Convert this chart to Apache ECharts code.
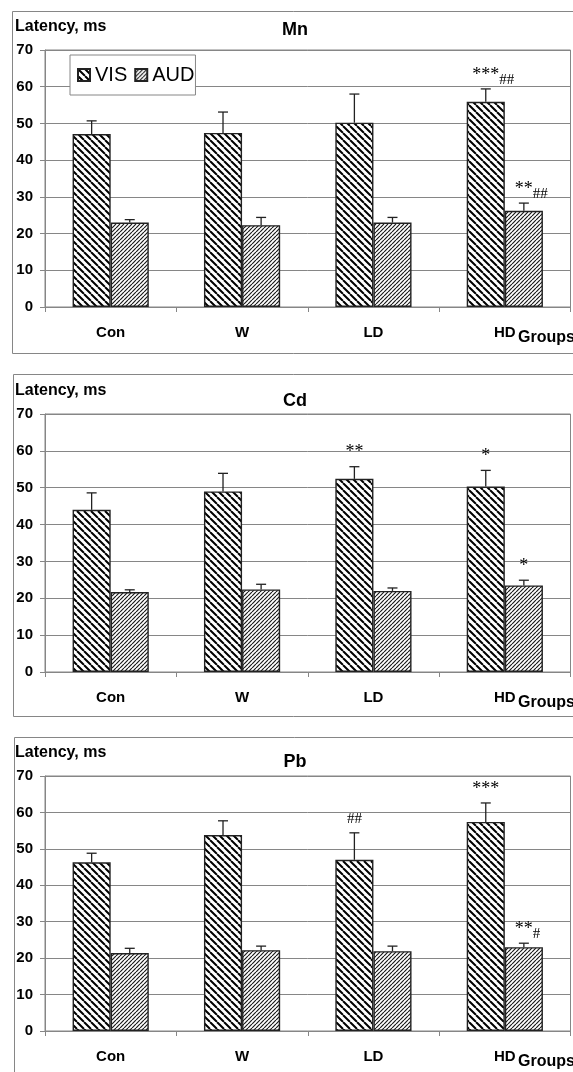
<!DOCTYPE html>
<html><head><meta charset="utf-8">
<script src="https://cdn.jsdelivr.net/npm/echarts@6/dist/echarts.min.js"></script>
<style>html,body{margin:0;padding:0;background:#fff}#c{width:573px;height:1072px}</style>
</head><body><div id="c"></div>
<script>
// ---- data ----
const categories = ['Con', 'W', 'LD', 'HD'];
const panelTitles = ['Mn', 'Cd', 'Pb'];
const yAxisTitle = 'Latency, ms';
const xAxisTitle = 'Groups';
const yMin = 0, yMax = 70, yStep = 10;

const mnVIS = [47.1, 47.4, 50.2, 55.9];
const mnVISerr = [3.6, 5.7, 7.8, 3.5];
const mnAUD = [23.0, 22.3, 23.0, 26.2];
const mnAUDerr = [0.8, 2.1, 1.4, 2.1];
const mnVISstars = ['', '', '', '***'];
const mnVIShash = ['', '', '', '##'];
const mnAUDstars = ['', '', '', '**'];
const mnAUDhash = ['', '', '', '##'];

const cdVIS = [44.0, 49.0, 52.4, 50.3];
const cdVISerr = [4.6, 4.9, 3.3, 4.4];
const cdAUD = [21.7, 22.4, 22.0, 23.5];
const cdAUDerr = [0.6, 1.4, 0.8, 1.4];
const cdVISstars = ['', '', '**', '*'];
const cdVIShash = ['', '', '', ''];
const cdAUDstars = ['', '', '', '*'];
const cdAUDhash = ['', '', '', ''];

const pbVIS = [46.3, 53.8, 47.0, 57.4];
const pbVISerr = [2.5, 3.9, 7.4, 5.2];
const pbAUD = [21.4, 22.2, 21.9, 23.0];
const pbAUDerr = [1.3, 1.1, 1.4, 1.1];
const pbVISstars = ['', '', '', '***'];
const pbVIShash = ['', '', '##', ''];
const pbAUDstars = ['', '', '', '**'];
const pbAUDhash = ['', '', '', '#'];

// ---- layout / style ----
const GAP = 0.42;
const gridTops = [50, 414, 776];
const gridHeights = [257, 258, 255];
const titleY = [30, 401, 762];
const frames = [[12, 11, 600, 342], [13, 374, 600, 342], [14, 737, 600, 360]];
const GRAY = '#868686';
const SANS = '"Liberation Sans", Arial, sans-serif';

function hatch(size, lw, color, dir) {
  const c = document.createElement('canvas');
  c.width = size; c.height = size;
  const g = c.getContext('2d');
  g.fillStyle = '#fff'; g.fillRect(0, 0, size, size);
  g.strokeStyle = color; g.lineWidth = lw; g.beginPath();
  for (let k = -1; k <= 1; k++) {
    if (dir > 0) { g.moveTo(k * size, 0); g.lineTo(k * size + size, size); }
    else { g.moveTo(k * size, size); g.lineTo(k * size + size, 0); }
  }
  g.stroke();
  return c;
}
const visPattern = { image: hatch(7, 2.0, '#000', 1), repeat: 'repeat' };
const audPattern = { image: hatch(4, 1.2, '#1a1a1a', -1), repeat: 'repeat' };

const panels = [
  { vis: mnVIS, visErr: mnVISerr, aud: mnAUD, audErr: mnAUDerr, vs: mnVISstars, vh: mnVIShash, as: mnAUDstars, ah: mnAUDhash },
  { vis: cdVIS, visErr: cdVISerr, aud: cdAUD, audErr: cdAUDerr, vs: cdVISstars, vh: cdVIShash, as: cdAUDstars, ah: cdAUDhash },
  { vis: pbVIS, visErr: pbVISerr, aud: pbAUD, audErr: pbAUDerr, vs: pbVISstars, vh: pbVIShash, as: pbAUDstars, ah: pbAUDhash }
];

function errSeries(idx, means, errs, stars, hashes, side, name) {
  return {
    type: 'custom', name: name, xAxisIndex: idx, yAxisIndex: idx, z: 5, silent: true,
    data: means.map((m, i) => [i, m, errs[i]]),
    renderItem: function (params, api) {
      const i = api.value(0), m = api.value(1), e = api.value(2);
      const band = api.size([1, 0])[0];
      const bw = band * (1 - GAP) / 2;
      const base = api.coord([i, m]);
      const x = base[0] + side * bw / 2;
      const y0 = base[1];
      const yT = api.coord([i, m + e])[1];
      const ls = { stroke: '#222', lineWidth: 1.3 };
      const children = [
        { type: 'line', shape: { x1: x, y1: y0, x2: x, y2: yT }, style: ls },
        { type: 'line', shape: { x1: x - 5, y1: yT, x2: x + 5, y2: yT }, style: ls }
      ];
      const s = stars[i], h = hashes[i];
      if (s) {
        children.push({ type: 'text', style: { text: s, x: x, y: yT - 14, font: '18px "Liberation Serif"', fill: '#000', align: 'center', verticalAlign: 'middle', textAlign: 'center', textVerticalAlign: 'middle' } });
      }
      if (h) {
        if (s) {
          children.push({ type: 'text', style: { text: h, x: x + s.length * 4.5, y: yT - 9, font: '15px "Liberation Serif"', fill: '#000', align: 'left', verticalAlign: 'middle', textAlign: 'left', textVerticalAlign: 'middle' } });
        } else {
          children.push({ type: 'text', style: { text: h, x: x, y: yT - 14, font: '15px "Liberation Serif"', fill: '#000', align: 'center', verticalAlign: 'middle', textAlign: 'center', textVerticalAlign: 'middle' } });
        }
      }
      return { type: 'group', children: children };
    }
  };
}

const grids = [], xAxes = [], yAxes = [], series = [], graphics = [];
panels.forEach((p, k) => {
  grids.push({ left: 45, width: 525.5, top: gridTops[k], height: gridHeights[k], show: true, borderColor: GRAY, borderWidth: 1, backgroundColor: '#fff' });
  xAxes.push({
    type: 'category', gridIndex: k, data: categories,
    axisLine: { show: true, lineStyle: { color: GRAY, width: 1 } },
    axisTick: { show: true, length: 5, lineStyle: { color: GRAY } },
    axisLabel: { color: '#000', fontFamily: SANS, fontWeight: 'bold', fontSize: 15, margin: 18 },
    splitLine: { show: false }
  });
  yAxes.push({
    type: 'value', gridIndex: k, min: yMin, max: yMax, interval: yStep,
    axisLine: { show: true, lineStyle: { color: GRAY, width: 1 } },
    axisTick: { show: true, length: 5, lineStyle: { color: GRAY } },
    axisLabel: { color: '#000', fontFamily: SANS, fontWeight: 'bold', fontSize: 15, margin: 12 },
    splitLine: { show: true, lineStyle: { color: GRAY, width: 1 } }
  });
  const barStyle = { borderColor: '#222', borderWidth: 1.4 };
  series.push({ type: 'bar', name: 'VIS', xAxisIndex: k, yAxisIndex: k, data: p.vis, barGap: '0%', barCategoryGap: (GAP * 100) + '%', itemStyle: Object.assign({ color: visPattern }, barStyle), silent: true });
  series.push({ type: 'bar', name: 'AUD', xAxisIndex: k, yAxisIndex: k, data: p.aud, barGap: '0%', barCategoryGap: (GAP * 100) + '%', itemStyle: Object.assign({ color: audPattern }, barStyle), silent: true });
  series.push(errSeries(k, p.vis, p.visErr, p.vs, p.vh, -1, 'errVIS' + k));
  series.push(errSeries(k, p.aud, p.audErr, p.as, p.ah, 1, 'errAUD' + k));

  const f = frames[k];
  graphics.push({ type: 'rect', shape: { x: f[0] + 0.5, y: f[1] + 0.5, width: f[2], height: f[3] }, style: { fill: 'none', stroke: GRAY, lineWidth: 1 }, z: -1 });
  graphics.push({ type: 'text', style: { text: panelTitles[k], x: 295, y: titleY[k], font: 'bold 18px ' + SANS, fill: '#000', textAlign: 'center', textVerticalAlign: 'middle', align: 'center', verticalAlign: 'middle' } });
  graphics.push({ type: 'text', style: { text: yAxisTitle, x: 15, y: gridTops[k] - 23, font: 'bold 16px ' + SANS, fill: '#000', textAlign: 'left', textVerticalAlign: 'middle', align: 'left', verticalAlign: 'middle' } });
  graphics.push({ type: 'text', style: { text: xAxisTitle, x: 518, y: gridTops[k] + gridHeights[k] + 31, font: 'bold 16px ' + SANS, fill: '#000', textAlign: 'left', textVerticalAlign: 'middle', align: 'left', verticalAlign: 'middle' } });
});

const chart = echarts.init(document.getElementById('c'), null, { renderer: 'canvas' });
chart.setOption({
  animation: false,
  backgroundColor: '#fff',
  grid: grids, xAxis: xAxes, yAxis: yAxes, series: series,
  legend: {
    data: ['VIS', 'AUD'], left: 70, top: 55, orient: 'horizontal', icon: 'rect',
    itemWidth: 12, itemHeight: 12, itemGap: 7, padding: [10, 1, 10, 7],
    borderColor: GRAY, borderWidth: 1, backgroundColor: '#fff', selectedMode: false,
    textStyle: { fontSize: 20, fontFamily: SANS, color: '#000' }
  },
  graphic: graphics
});
</script></body></html>
